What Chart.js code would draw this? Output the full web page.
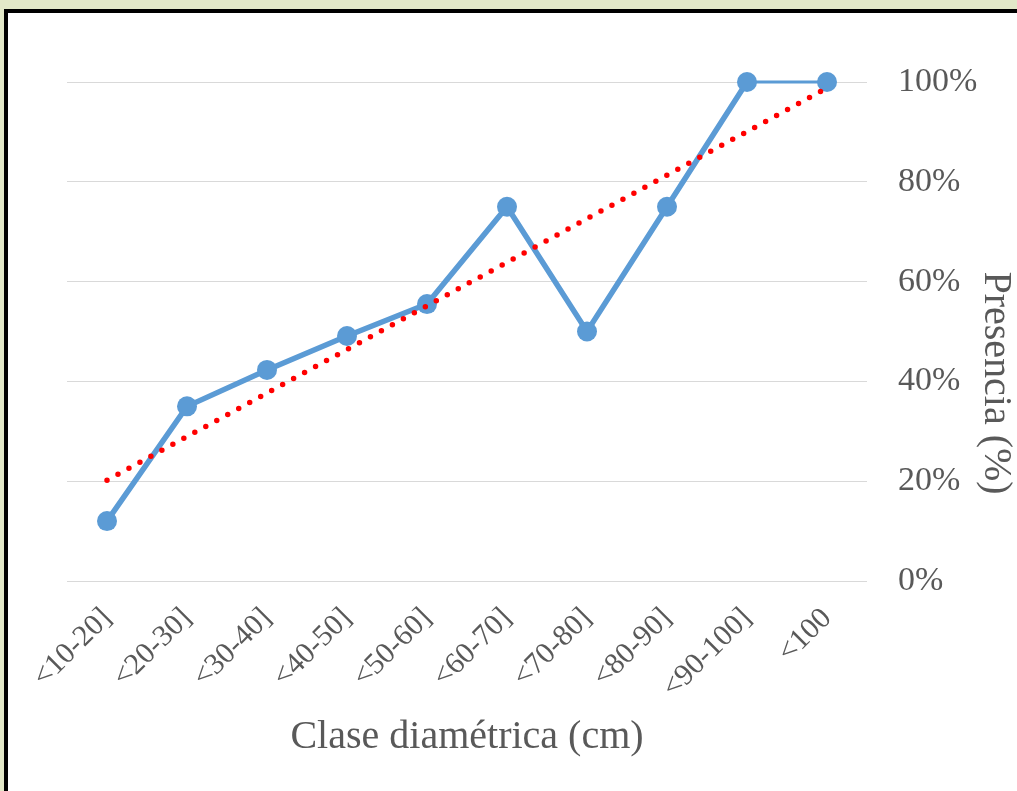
<!DOCTYPE html>
<html>
<head>
<meta charset="utf-8">
<script src="https://cdn.jsdelivr.net/npm/chart.js"></script>
<style>
    body { margin: 0; background: #e2e8c8; width: 1017px; height: 791px; overflow: hidden; position: relative; }
    .frame { position: absolute; left: 4px; top: 9px; width: 1040px; height: 820px; background: #fff; border-top: 4px solid #000; border-left: 4px solid #000; }
    .wrap { position: absolute; left: 0; top: 0; width: 1017px; height: 791px; }
</style>
</head>
<body>
<div class="frame"></div>
<div class="wrap"><canvas id="presenceChart" width="1017" height="791"></canvas></div>
<script>
    // Diameter classes and presence (%)
    const classes = ['<10-20]', '<20-30]', '<30-40]', '<40-50]', '<50-60]', '<60-70]', '<70-80]', '<80-90]', '<90-100]', '<100'];
    const presence = [12, 35, 42.3, 49.1, 55.5, 75, 50, 75, 100, 100];
    // Linear trendline, only its two ends
    const trend = [20.2, null, null, null, null, null, null, null, null, 98.8];
    const yTicks = [0, 20, 40, 60, 80, 100];

    const serif = "'Liberation Serif', 'Times New Roman', serif";
    const grey = '#595959';
    const yTitle = 'Presencia (%)';

    // y title sits lower than the plot centre in the original, so draw it by hand
    const yTitlePlugin = {
        id: 'yTitle',
        afterDraw(chart) {
            const c = chart.ctx;
            c.save();
            c.translate(995, 383);
            c.rotate(Math.PI / 2);
            c.fillStyle = grey;
            c.font = "40px " + serif;
            c.textAlign = 'center';
            c.textBaseline = 'middle';
            c.fillText(yTitle, 0, 0);
            c.restore();
        }
    };

    const ctx = document.getElementById('presenceChart').getContext('2d');
    new Chart(ctx, {
        type: 'line',
        data: {
            labels: classes,
            datasets: [
                {
                    label: 'Tendencia',
                    data: trend,
                    spanGaps: true,
                    borderColor: '#ff0000',
                    borderWidth: 5.5,
                    borderDash: [0, 12.5],
                    borderCapStyle: 'round',
                    pointRadius: 0,
                    fill: false,
                    clip: false,
                    order: 0
                },
                {
                    label: 'Presencia',
                    data: presence,
                    borderColor: '#5b9bd5',
                    backgroundColor: '#5b9bd5',
                    borderWidth: 5.5,
                    pointRadius: 10,
                    pointBorderWidth: 0,
                    tension: 0,
                    fill: false,
                    clip: false,
                    order: 1,
                    segment: {
                        // the last segment is drawn thinner in the original
                        borderWidth: c => c.p1DataIndex === classes.length - 1 ? 3 : 5.5
                    }
                }
            ]
        },
        options: {
            responsive: false,
            animation: false,
            devicePixelRatio: 1,
            layout: { padding: { left: 67, top: 82, right: 0, bottom: 0 } },
            plugins: {
                legend: { display: false },
                tooltip: { enabled: false }
            },
            scales: {
                x: {
                    offset: true,
                    grid: { display: false, drawTicks: false },
                    border: { display: false },
                    ticks: {
                        color: grey,
                        font: { family: serif, size: 30 },
                        minRotation: 45,
                        maxRotation: 45,
                        padding: 20,
                        autoSkip: false
                    },
                    title: {
                        display: true,
                        text: 'Clase diamétrica (cm)',
                        color: grey,
                        font: { family: serif, size: 40 },
                        padding: { top: 0, bottom: 30 }
                    },
                    afterFit: s => { s.height = 210; }
                },
                y: {
                    position: 'right',
                    min: 0,
                    max: 100,
                    afterBuildTicks: s => { s.ticks = yTicks.map(v => ({ value: v })); },
                    grid: { color: '#d9d9d9', lineWidth: 1, drawTicks: false },
                    border: { display: false },
                    ticks: {
                        color: grey,
                        font: { family: serif, size: 34 },
                        padding: 31,
                        crossAlign: 'near',
                        callback: v => v + '%'
                    },
                    afterFit: s => { s.width = 150; }
                }
            }
        },
        plugins: [yTitlePlugin]
    });
</script>
</body>
</html>
